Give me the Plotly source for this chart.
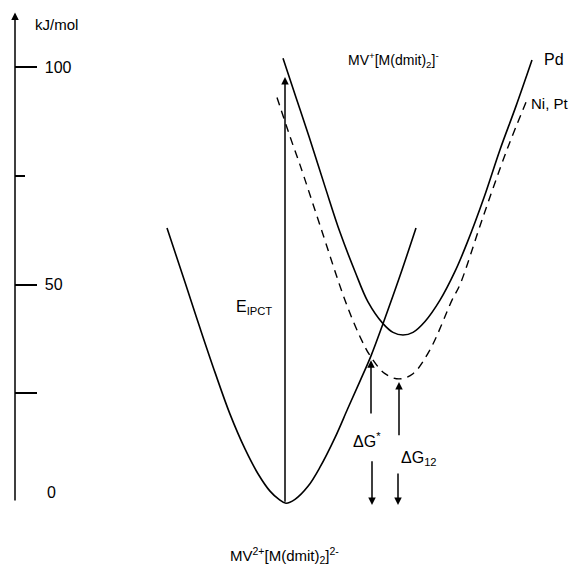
import plotly.graph_objects as go

# Reaction coordinate (arbitrary units) and energies (kJ/mol)
ground_x = [167, 185, 200, 215, 230, 245, 258, 270, 279, 286, 295, 308, 320, 335, 348, 360, 371, 383, 400, 416]
ground_E = [63, 50.5, 40, 29.8, 20.2, 12.2, 6.5, 2.5, 0.6, -0.3, 0.6, 3.6, 8, 14.8, 21.6, 27.8, 33.6, 41, 52, 63]

pd_x = [283, 296, 309, 325, 340, 355, 368, 383, 393, 403, 413, 425, 440, 455, 467, 484, 500, 516, 532]
pd_E = [102, 93, 84, 72.5, 62, 53, 46, 41, 39, 38.4, 39, 41.5, 46.4, 53, 59.5, 70, 81, 91, 101.6]

nipt_x = [277, 290, 300, 320, 345, 360, 371, 385, 399, 413, 430, 452, 460, 483, 507, 528]
nipt_E = [93, 84, 77.5, 63.6, 46.4, 38, 33.3, 29.5, 28.3, 29.5, 35, 46.4, 50, 65.5, 81, 93]

# Energy axis
tick_vals = [0, 50, 100]
tick_text = ["0", "50", "100"]
major_ticks = [25, 50, 100]
minor_ticks = [75]
axis_top = 112.5

# Arrows: (x, from E, to E)
arrows = [
    (285, -0.3, 97.7),   # E_IPCT
    (371, 20, 32.6),     # ΔG* up
    (372, 9.7, -0.7),    # ΔG* down
    (399, 15, 27.6),     # ΔG12 up
    (398, 6.9, -0.7),    # ΔG12 down
]

FONT = "Liberation Sans, Arial, sans-serif"

fig = go.Figure()
fig.add_trace(go.Scatter(x=ground_x, y=ground_E, mode="lines", line=dict(color="black", width=1.6, shape="spline", smoothing=1.0), hoverinfo="skip"))
fig.add_trace(go.Scatter(x=pd_x, y=pd_E, mode="lines", line=dict(color="black", width=1.6, shape="spline", smoothing=1.0), hoverinfo="skip"))
fig.add_trace(go.Scatter(x=nipt_x, y=nipt_E, mode="lines", line=dict(color="black", width=1.4, shape="spline", smoothing=1.0, dash="8px,6px"), hoverinfo="skip"))

ann = []
# axis line with arrow
ann.append(dict(x=15, y=axis_top, ax=15, ay=0, xref="x", yref="y", axref="x", ayref="y",
                text="", showarrow=True, arrowhead=2, arrowsize=1, arrowwidth=1.5, arrowcolor="black"))
for (x, e0, e1) in arrows:
    ann.append(dict(x=x, y=e1, ax=x, ay=e0, xref="x", yref="y", axref="x", ayref="y",
                    text="", showarrow=True, arrowhead=2, arrowsize=1, arrowwidth=1.5, arrowcolor="black"))

def label(text, x, y, xanchor="center", size=15):
    ann.append(dict(x=x, y=y, xref="x", yref="y", text=text, showarrow=False,
                    xanchor=xanchor, yanchor="middle", font=dict(family=FONT, size=size, color="black")))

label("kJ/mol", 33, 109.7, "left", 15)
label("MV<sup>+</sup>[M(dmit)<sub>2</sub>]<sup>-</sup>", 393, 101.6, "center", 14)
label("Pd", 542, 101.8, "left", 16)
label("Ni, Pt", 529, 91.5, "left", 15)
label("E<sub>IPCT</sub>", 254, 44.6, "center", 16)
label("ΔG<sup>*</sup>", 367, 14.3, "center", 16)
label("ΔG<sub>12</sub>", 419, 10.1, "center", 16)
label("MV<sup>2+</sup>[M(dmit)<sub>2</sub>]<sup>2-</sup>", 284, -12.2, "center", 15)
# zero label (axis has no tick at 0; label sits slightly above the baseline)
label(tick_text[0], 45, 2.1, "left", 16)

fig.update_layout(
    width=573, height=568,
    margin=dict(l=15, r=0, t=0, b=0, autoexpand=False),
    paper_bgcolor="white", plot_bgcolor="white",
    showlegend=False,
    annotations=ann,
    xaxis=dict(range=[15, 573], visible=False, fixedrange=True),
    yaxis=dict(range=[-15.17, 115.40], showgrid=False, zeroline=False, showline=False,
               tickmode="array", tickvals=major_ticks,
               ticktext=[tick_text[tick_vals.index(v)] if v in tick_vals else "" for v in major_ticks],
               ticks="inside", ticklen=22, tickwidth=1.5, tickcolor="black",
               ticklabelposition="inside", ticklabelstandoff=8,
               tickfont=dict(family=FONT, size=16, color="black"),
               minor=dict(tickmode="array", tickvals=minor_ticks, ticks="inside", ticklen=10, tickwidth=1.5, tickcolor="black"),
               fixedrange=True),
)

fig.write_html("out.html", post_script="document.body.style.margin='0';", config={"displayModeBar": False})
